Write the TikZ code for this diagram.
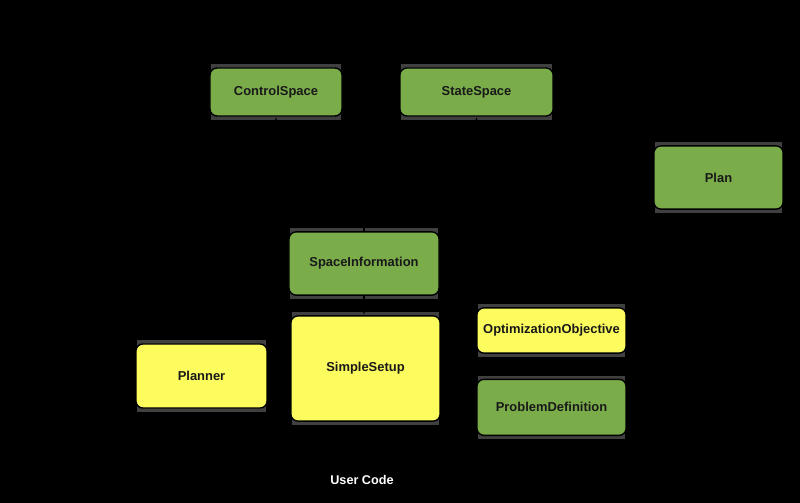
\documentclass[tikz,border=0pt]{standalone}
\usepackage{fontspec}
\setmainfont{Liberation Sans}
\usetikzlibrary{arrows.meta, positioning, calc, backgrounds}
\definecolor{verdeclase}{RGB}{122, 172, 74}
\definecolor{amarilloclase}{RGB}{252, 252, 94}
\definecolor{sombra}{RGB}{64, 64, 64}

\begin{document}
\begin{tikzpicture}[
        x=0.025cm, y=-0.025cm,
        clase/.style={
            rectangle,
            rounded corners=5pt,
            draw=black,
            line width=1pt,
            align=center,
            text=black!90,
            font=\fontsize{9.2}{11}\selectfont\bfseries,
            inner sep=2pt
        },
        verde/.style={clase, fill=verdeclase},
        amarillo/.style={clase, fill=amarilloclase},
        flecha/.style={-{Latex[length=2mm]}, line width=1pt, draw=black}
    ]
        \useasboundingbox (0,0) rectangle (800,503);

        \node[verde, minimum width=3.30cm, minimum height=1.20cm] (control) at (276,92) {ControlSpace};
        \node[verde, minimum width=3.83cm, minimum height=1.20cm] (state) at (476.5,92) {StateSpace};
        \node[verde, minimum width=3.23cm, minimum height=1.58cm] (plan) at (718.5,177.5) {Plan};

        \node[verde, minimum width=3.75cm, minimum height=1.58cm] (spaceinfo) at (364,263.5) {SpaceInformation};
        \node[amarillo, minimum width=3.73cm, minimum height=2.63cm] (setup) at (365.5,368.5) {SimpleSetup};
        \node[amarillo, minimum width=3.28cm, minimum height=1.60cm] (planner) at (201.5,376) {Planner};

        \node[amarillo, minimum width=3.73cm, minimum height=1.13cm] (objective) at (551.5,330.5) {OptimizationObjective};
        \node[verde, minimum width=3.73cm, minimum height=1.40cm, below=0.62cm of objective] (problem) {ProblemDefinition};

        \node[text=white, font=\fontsize{9}{11}\selectfont\bfseries] (usercode) at (362,480) {User Code};

        \draw[flecha] (spaceinfo.north) -- ++(0,-45) -| (control.south);
        \draw[flecha] (spaceinfo.north) -- ++(0,-45) -| (state.south);
        \draw[flecha] (spaceinfo.south) -- (spaceinfo.south |- setup.north);
        \draw[flecha] (planner.east) -- (planner.east -| setup.west);

        \begin{scope}[on background layer]
            \fill[black] (0,0) rectangle (800,503);
            \foreach \n in {control, state, plan, spaceinfo, setup, planner, objective, problem}
                \fill[sombra] ([shift={(1.5pt,-2.2pt)}]\n.south west) rectangle ([shift={(-1.5pt,2.2pt)}]\n.north east);
        \end{scope}
    \end{tikzpicture}
\end{document}
